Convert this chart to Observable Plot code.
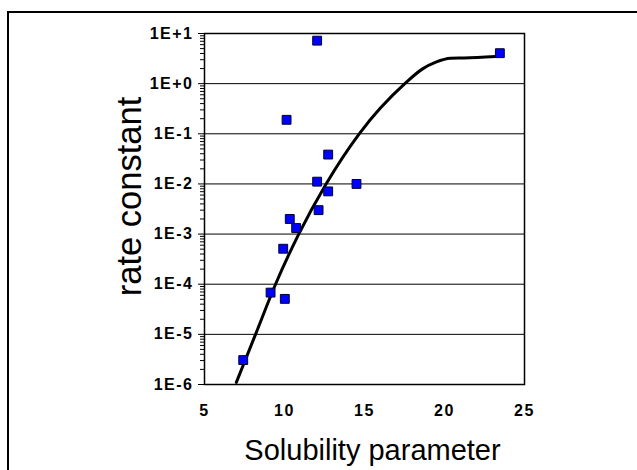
<!DOCTYPE html>
<html>
<head>
<meta charset="utf-8">
<script src="https://cdn.jsdelivr.net/npm/d3@7"></script>
<script src="https://cdn.jsdelivr.net/npm/@observablehq/plot@0.6"></script>
<style>
  html, body { margin: 0; padding: 0; background: #fff; }
  #wrap { position: relative; width: 637px; height: 470px; overflow: hidden; }
  #border { position: absolute; left: 7px; top: 11px; width: 700px; height: 500px;
            border-top: 2px solid #000; border-left: 2px solid #000; box-sizing: border-box; }
  #chart { position: absolute; left: 0; top: 0; }
  #chart svg g[aria-label*="tick label"] { letter-spacing: 1.5px; }
</style>
</head>
<body>
<div id="wrap"><div id="border"></div><div id="chart"></div></div>
<script>
// Measured data points (solubility parameter, rate constant)
const pointX = [12.04, 10.13, 12.04, 14.5, 12.73, 12.13, 10.33, 10.73, 9.92, 9.13, 10.02, 7.42, 23.46, 12.73];
const pointY = [7.2, 0.19, 0.0111, 0.01, 0.0071, 0.0030, 0.0020, 0.00132, 5.1e-4, 6.8e-5, 5.1e-5, 3.07e-6, 4.05, 0.0385];

// Fitted trend curve
const curveX = [6.99, 8.19, 9.44, 10.89, 12.6, 14.67, 17.52, 18.63, 19.46, 20.39, 21.23, 23.19];
const curveY = [1.1e-6, 1e-5, 1e-4, 1e-3, 1e-2, 0.1, 1.0, 1.97, 2.68, 3.2, 3.25, 3.47];

// Axis ticks and labels
const xTicks = [5, 10, 15, 20, 25];
const xTickLabels = ["5", "10", "15", "20", "25"];
const yTicks = [1e-6, 1e-5, 1e-4, 1e-3, 1e-2, 1e-1, 1e0, 1e1];
const yTickLabels = ["1E-6", "1E-5", "1E-4", "1E-3", "1E-2", "1E-1", "1E+0", "1E+1"];
const xLabel = "Solubility parameter";
const yLabel = "rate constant";

const points = pointX.map((x, i) => ({x, y: pointY[i]}));
const curve = curveX.map((x, i) => ({x, y: curveY[i]}));
const minorTicks = [];
for (let k = 0; k < yTicks.length - 1; k++) for (let m = 2; m <= 9; m++) minorTicks.push(yTicks[k] * m);

const font = "Liberation Sans, Arial, sans-serif";

const chart = Plot.plot({
  width: 637,
  height: 470,
  marginLeft: 204,
  marginRight: 113,
  marginTop: 33,
  marginBottom: 86,
  style: { background: "transparent", fontFamily: font },
  x: { domain: [5, 25] },
  y: { type: "log", domain: [1e-6, 10] },
  marks: [
    Plot.gridY(yTicks, { stroke: "#000", strokeOpacity: 1, strokeWidth: 1 }),
    Plot.frame({ stroke: "#000", strokeWidth: 1.5 }),
    Plot.axisY(minorTicks, { tickSize: 4, tickFormat: null, stroke: "#000", strokeOpacity: 1, label: null }),
    Plot.axisY(yTicks, {
      tickSize: 6, tickPadding: 5, stroke: "#000", strokeOpacity: 1, label: null,
      tickFormat: d => yTickLabels[yTicks.indexOf(d)],
      fontSize: 16, fontWeight: "bold", fill: "#000"
    }),
    Plot.axisX(xTicks, {
      tickSize: 0, tickPadding: 20, label: null,
      tickFormat: d => xTickLabels[xTicks.indexOf(d)],
      fontSize: 16, fontWeight: "bold", fill: "#000"
    }),
    Plot.line(curve, { x: "x", y: "y", stroke: "#000", strokeWidth: 3, curve: "monotone-x" }),
    Plot.dot(points, { x: "x", y: "y", symbol: "square", r: 5, fill: "#0000ff", stroke: "#000033", strokeWidth: 1 }),
    Plot.text([yLabel], { frameAnchor: "left", dx: -64, dy: -12.5, rotate: -90, lineAnchor: "bottom",
      textAnchor: "middle", fontSize: 34.5, fill: "#000", fontFamily: font }),
    Plot.text([xLabel], { frameAnchor: "bottom", dx: 8, dy: 75, lineAnchor: "bottom",
      textAnchor: "middle", fontSize: 29, fill: "#000", fontFamily: font })
  ]
});
document.getElementById("chart").appendChild(chart);
</script>
</body>
</html>
